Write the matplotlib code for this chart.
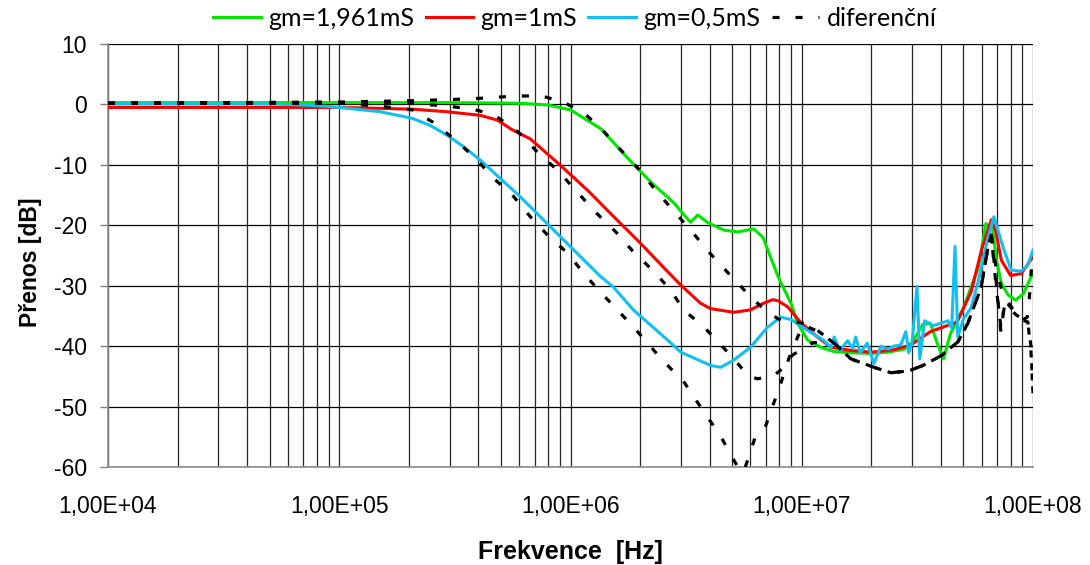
import numpy as np
import matplotlib.pyplot as plt
from matplotlib.ticker import FixedLocator, FuncFormatter, LogLocator, NullFormatter

# gm = 1,961 mS
f_green = [1e4, 1e5, 3e5, 6e5, 8e5, 1e6, 1.35e6, 1.8e6, 2.22e6, 2.8e6, 3.3e6, 3.55e6,
           3.9e6, 4.6e6, 5.3e6, 6.2e6, 6.8e6, 7.9e6, 9e6, 9.6e6, 1.06e7, 1.21e7, 1.38e7,
           1.63e7, 2e7, 2.36e7, 2.77e7, 3.0e7, 3.34e7, 3.6e7, 3.85e7, 4.1e7, 4.4e7, 5e7,
           5.8e7, 6.26e7, 6.7e7, 6.95e7, 7.3e7, 7.8e7, 8.4e7, 9.1e7, 1e8]
db_green = [0.3, 0.3, 0.3, 0.2, -0.1, -0.9, -4.0, -9.2, -12.8, -16.3, -19.5, -18.3,
            -19.5, -20.8, -21.1, -20.6, -22.0, -28.5, -33.0, -36.2, -39.0, -40.2, -40.9,
            -41.1, -41.2, -41.0, -40.5, -39.4, -36.4, -36.2, -39.5, -42.1, -37.9, -33.7,
            -27.0, -19.7, -20.8, -25.8, -29.6, -31.5, -32.4, -31.3, -27.8]

# gm = 1 mS
f_red = [1e4, 1e5, 1.5e5, 2.1e5, 2.9e5, 4.07e5, 4.83e5, 5.6e5, 6.7e5, 9e5, 1.2e6, 1.54e6,
         2e6, 2.5e6, 3e6, 3.65e6, 4.04e6, 5.08e6, 6e6, 6.84e6, 7.5e6, 7.9e6, 8.7e6, 9.9e6,
         1.17e7, 1.34e7, 1.63e7, 2e7, 2.5e7, 2.96e7, 3.6e7, 4.7e7, 5.4e7, 6.0e7, 6.6e7,
         6.9e7, 7.3e7, 8e7, 8.9e7, 1e8]
db_red = [-0.5, -0.5, -0.65, -0.8, -1.2, -1.8, -2.6, -4.2, -5.7, -10.0, -14.4, -18.6,
          -22.9, -26.8, -29.9, -32.9, -33.8, -34.4, -34.0, -32.9, -32.3, -32.5, -33.5, -36.1,
          -38.5, -40.2, -40.7, -41.0, -40.6, -39.8, -37.6, -36.0, -31.0, -24.0, -19.1,
          -21.0, -25.8, -28.3, -28.0, -25.2]

# gm = 0,5 mS
f_blue = [1e4, 5e4, 8e4, 1e5, 1.5e5, 2.07e5, 2.48e5, 2.93e5, 3.45e5, 4.07e5, 6.07e5,
          9.05e5, 1.35e6, 1.53e6, 1.87e6, 2.63e6, 3e6, 4.04e6, 4.46e6, 5.08e6, 6e6, 7.1e6,
          8.1e6, 9e6, 1.06e7, 1.24e7, 1.34e7, 1.38e7, 1.46e7, 1.58e7, 1.66e7, 1.71e7,
          1.79e7, 1.92e7, 2.05e7, 2.2e7, 2.36e7, 2.5e7, 2.68e7, 2.82e7, 2.9e7, 3.0e7,
          3.15e7, 3.24e7, 3.4e7, 3.7e7, 4.0e7, 4.29e7, 4.45e7, 4.6e7, 4.73e7, 5e7, 5.39e7,
          5.78e7, 6.39e7, 6.78e7, 7.27e7, 7.5e7, 8.04e7, 8.88e7, 9.5e7, 1e8]
db_blue = [0.1, 0.1, -0.2, -0.5, -1.2, -2.3, -3.5, -5.1, -7.0, -9.2, -15.3,
           -21.9, -28.5, -30.2, -34.0, -39.0, -41.0, -43.2, -43.5, -42.3, -40.2, -36.9,
           -35.2, -35.6, -37.4, -39.0, -40.2, -38.5, -40.7, -39.1, -40.4, -38.5,
           -41.1, -39.5, -42.9, -40.0, -40.5, -40.0, -39.8, -37.6, -41.1, -39.5,
           -30.1, -42.1, -35.8, -36.6, -36.2, -35.8, -37.0, -23.5, -38.5, -35.5, -33.7,
           -29.5, -22.0, -18.6, -22.5, -24.1, -27.4, -27.6, -26.6, -24.1]

# diferenční (three measured curves)
f_tail = [1.63e7, 2.05e7, 2.43e7, 2.9e7, 3.34e7, 4e7, 4.73e7, 5.23e7, 5.96e7, 6.39e7, 6.6e7]
db_tail = [-42.1, -43.5, -44.4, -44.1, -43.2, -41.6, -39.3, -36.2, -30.3, -23.6, -21.6]

f_dif1 = [1e4, 1e5, 2e5, 3e5, 4e5, 4.8e5, 6e5, 7.5e5, 9.3e5, 1.14e6, 1.35e6, 1.6e6,
          1.95e6, 2.29e6, 2.77e6, 3.31e6, 3.96e6, 4.78e6, 5.7e6, 6.6e6, 7.9e6, 1.01e7,
          1.17e7, 1.38e7] + f_tail + [6.92e7, 7.3e7, 7.7e7, 8.44e7, 9e7, 9.45e7, 9.65e7, 9.9e7]
db_dif1 = [0.2, 0.4, 0.6, 0.8, 1.0, 1.2, 1.4, 1.4, 0.4, -1.4, -3.9, -7.0,
           -10.5, -13.8, -17.5, -20.8, -24.4, -27.8, -30.9, -33.3, -35.5, -36.2,
           -37.4, -39.5] + db_tail + [-27.0, -30.5, -32.4, -34.6, -35.7, -35.2, -31.9, -25.8]

f_dif2 = [1e4, 1e5, 2e5, 3e5, 4e5, 4.83e5, 5.96e5, 7.2e5, 8.79e5, 1.07e6, 1.28e6, 1.57e6,
          1.87e6, 2.26e6, 2.71e6, 3.08e6, 3.77e6, 4.37e6, 5.08e6, 5.9e6, 6.45e6, 7.49e6,
          8.27e6, 9.1e6, 1.12e7, 1.38e7] + f_tail + [6.92e7, 7.27e7, 7.55e7, 8.44e7, 9e7,
                                                      9.5e7, 9.8e7, 1e8]
db_dif2 = [0.2, 0.3, 0.2, -0.3, -1.0, -2.1, -4.6, -7.9, -10.9, -14.5, -17.8, -21.1,
           -24.4, -27.4, -30.7, -34.0, -36.8, -39.4, -42.1, -45.0, -45.4, -45.0,
           -43.7, -41.5, -39.4, -39.5] + db_tail + [-29.0, -37.8, -32.4, -34.6, -35.7,
                                                   -36.0, -40.0, -47.8]

f_dif3 = [1e4, 1e5, 1.5e5, 2.07e5, 2.53e5, 3.18e5, 3.88e5, 4.64e5, 5.61e5, 6.71e5, 7.95e5,
          9.71e5, 1.16e6, 1.39e6, 1.65e6, 1.97e6, 2.33e6, 2.71e6, 3.08e6, 3.47e6, 3.92e6,
          4.16e6, 4.55e6, 4.93e6, 5.45e6, 5.61e6, 5.9e6, 6.32e6, 6.98e6, 7.49e6, 8.11e6,
          8.8e6, 9.6e6, 1.01e7, 1.17e7, 1.38e7] + f_tail + [6.92e7, 7.27e7, 7.55e7, 8.44e7,
                                                             9e7, 9.5e7, 9.8e7, 1e8]
db_dif3 = [0.2, 0.2, -0.3, -0.9, -2.9, -5.9, -8.9, -12.2, -15.0, -18.6, -21.6,
           -24.6, -28.3, -31.6, -34.6, -37.8, -41.0, -43.7, -45.8, -48.8, -51.8,
           -53.2, -55.5, -58.0, -60.8, -60.8, -58.3, -54.8, -53.2, -49.9, -46.2,
           -42.0, -38.5, -36.5, -37.5, -39.5] + db_tail + [-30.0, -37.0, -33.0, -34.8,
                                                         -35.5, -36.0, -41.0, -47.5]

xticks = [1e4, 1e5, 1e6, 1e7, 1e8]
yticks = [-60, -50, -40, -30, -20, -10, 0, 10]

plt.rcParams['font.family'] = ['Liberation Sans', 'DejaVu Sans']
plt.rcParams['axes.unicode_minus'] = False

fig = plt.figure(figsize=(10.9, 5.65), dpi=100)
ax = fig.add_axes([108 / 1090, 1 - 467 / 565, (1033 - 108) / 1090, (467 - 44) / 565])

ax.plot(f_green, db_green, color='#00e600', lw=2.2, label='gm=1,961mS', zorder=3)
ax.plot(f_red, db_red, color='#ff0000', lw=2.2, label='gm=1mS', zorder=4)
ax.plot(f_blue, db_blue, color='#10c0f0', lw=2.2, label='gm=0,5mS', zorder=5)
for i, (ff, dd) in enumerate([(f_dif1, db_dif1), (f_dif2, db_dif2), (f_dif3, db_dif3)]):
    ax.plot(ff, dd, color='black', lw=2.3, ls=(0, (2.2, 5.0)),
            label='diferenční' if i == 0 else None, zorder=6)

ax.set_xscale('log')
ax.set_xlim(1e4, 1e8)
ax.set_ylim(-60, 10)
ax.set_yticks(yticks)
ax.xaxis.set_major_locator(FixedLocator(xticks))
ax.xaxis.set_minor_locator(LogLocator(base=10, subs=range(2, 10)))
ax.xaxis.set_minor_formatter(NullFormatter())
ax.xaxis.set_major_formatter(FuncFormatter(lambda v, p: '1,00E+%02d' % round(np.log10(v))))

ax.grid(True, which='both', axis='x', color='#262626', lw=0.9)
ax.grid(True, which='major', axis='y', color='black', lw=0.9)
ax.set_axisbelow(True)
ax.tick_params(axis='x', which='both', length=0, pad=20, labelsize=16.5)
ax.tick_params(axis='y', length=6, width=1, color='#808080', pad=9, labelsize=16.5)

for s in ['top', 'right']:
    ax.spines[s].set_visible(False)
for s in ['left', 'bottom']:
    ax.spines[s].set_color('#8c8c8c')
    ax.spines[s].set_linewidth(1.2)

fig.text(30 / 1090, 1 - 262 / 565, 'Přenos [dB]', rotation=90, ha='center', va='center',
         fontsize=16.5, fontweight='bold')
fig.text(570 / 1090, 1 - 552 / 565, 'Frekvence  [Hz]', ha='center', va='center',
         fontsize=18, fontweight='bold')

fig.legend(loc='center', bbox_to_anchor=(575 / 1090, 1 - 18 / 565), ncol=4, frameon=False,
           prop={'family': ['Lato', 'DejaVu Sans'], 'size': 18}, handlelength=1.9,
           handletextpad=0.3, columnspacing=0.45, borderpad=0)

fig.savefig('out.png', dpi=100)
